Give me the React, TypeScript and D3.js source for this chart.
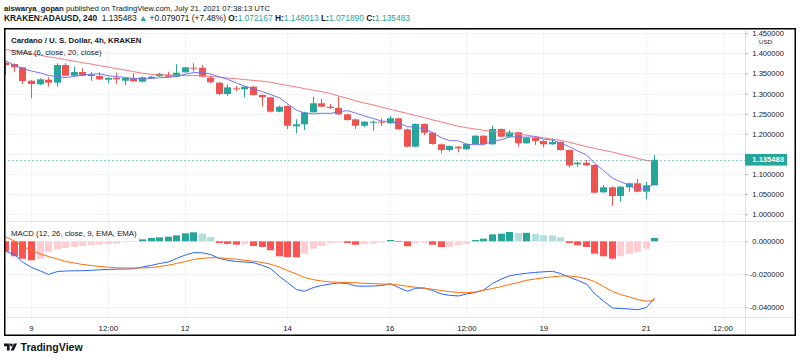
import React, { useEffect, useRef } from "react";
import * as d3 from "d3";

// KRAKEN:ADAUSD 4h bars, 8 Jul 2021 12:00 UTC .. 21 Jul 2021 04:00 UTC
const opens = [
  1.3767, 1.3734, 1.3652, 1.3319, 1.3230, 1.3344, 1.3270, 1.3709, 1.3444, 1.3535,
  1.3436, 1.3436, 1.3344, 1.3394, 1.3319, 1.3379, 1.3294, 1.3386, 1.3429, 1.3468,
  1.3419, 1.3528, 1.3642, 1.3642, 1.3394, 1.3270, 1.2989, 1.3130, 1.3106, 1.3170,
  1.2964, 1.2907, 1.2549, 1.2691, 1.2186, 1.2236, 1.2534, 1.2758, 1.2673, 1.2641,
  1.2485, 1.2360, 1.2201, 1.2286, 1.2301, 1.2261, 1.2385, 1.2112, 1.1680, 1.2243,
  1.2027, 1.1739, 1.1598, 1.1680, 1.1615, 1.1747, 1.1953, 1.1739, 1.2119, 1.1928,
  1.2037, 1.1764, 1.1903, 1.1821, 1.1739, 1.1796, 1.1598, 1.1242, 1.1282, 1.1225,
  1.0547, 1.0671, 1.0455, 1.0671, 1.0770, 1.0562, 1.072167,
];
const highs = [
  1.3790, 1.3752, 1.3660, 1.3337, 1.3379, 1.3404, 1.3752, 1.3752, 1.3667, 1.3627,
  1.3528, 1.3528, 1.3404, 1.3518, 1.3404, 1.3503, 1.3419, 1.3436, 1.3518, 1.3543,
  1.3727, 1.3667, 1.3752, 1.3709, 1.3444, 1.3290, 1.3230, 1.3188, 1.3190, 1.3190,
  1.2980, 1.2920, 1.2700, 1.2700, 1.2360, 1.2550, 1.2922, 1.2865, 1.2740, 1.2922,
  1.2500, 1.2380, 1.2320, 1.2330, 1.2385, 1.2442, 1.2400, 1.2130, 1.2260, 1.2260,
  1.2040, 1.1760, 1.1710, 1.1697, 1.1760, 1.1970, 1.1970, 1.2201, 1.2137, 1.2094,
  1.2050, 1.1920, 1.1920, 1.1840, 1.1888, 1.1810, 1.1610, 1.1300, 1.1349, 1.1240,
  1.0728, 1.0690, 1.0700, 1.0785, 1.0877, 1.0810, 1.148013,
];
const lows = [
  1.3461, 1.3543, 1.3237, 1.2882, 1.3212, 1.3170, 1.3170, 1.3429, 1.3419, 1.3436,
  1.3319, 1.3337, 1.3255, 1.3237, 1.3212, 1.3294, 1.3280, 1.3370, 1.3419, 1.3404,
  1.3404, 1.3518, 1.3543, 1.3404, 1.3260, 1.2960, 1.2939, 1.3063, 1.2907, 1.2950,
  1.2673, 1.2530, 1.2534, 1.2119, 1.2012, 1.2094, 1.2520, 1.2660, 1.2620, 1.2470,
  1.2330, 1.2119, 1.2162, 1.2077, 1.2201, 1.2250, 1.2100, 1.1665, 1.1665, 1.1970,
  1.1730, 1.1516, 1.1555, 1.1540, 1.1600, 1.1730, 1.1730, 1.1730, 1.1910, 1.1910,
  1.1680, 1.1750, 1.1722, 1.1665, 1.1725, 1.1585, 1.1168, 1.1183, 1.1200, 1.0520,
  1.0530, 1.0214, 1.0313, 1.0562, 1.0545, 1.0373, 1.071890,
];
const closes = [
  1.3709, 1.3652, 1.3312, 1.3237, 1.3354, 1.3270, 1.3709, 1.3444, 1.3535, 1.3444,
  1.3468, 1.3354, 1.3386, 1.3354, 1.3386, 1.3304, 1.3404, 1.3419, 1.3493, 1.3419,
  1.3518, 1.3652, 1.3627, 1.3419, 1.3280, 1.2989, 1.3155, 1.3106, 1.3170, 1.2964,
  1.2907, 1.2549, 1.2673, 1.2201, 1.2236, 1.2534, 1.2758, 1.2673, 1.2641, 1.2485,
  1.2343, 1.2201, 1.2301, 1.2301, 1.2276, 1.2385, 1.2112, 1.1680, 1.2243, 1.2027,
  1.1747, 1.1598, 1.1697, 1.1640, 1.1747, 1.1953, 1.1747, 1.2119, 1.1928, 1.2037,
  1.1764, 1.1903, 1.1821, 1.1739, 1.1796, 1.1598, 1.1217, 1.1282, 1.1217, 1.0537,
  1.0671, 1.0455, 1.0686, 1.0770, 1.0562, 1.0722, 1.135483,
];

// SMA 6 (blue) and SMA 20 (red), read per bar
const sma6 = [
  1.3809, 1.3709, 1.3622, 1.3560, 1.3511, 1.3448, 1.3424, 1.3399, 1.3424, 1.3461,
  1.3478, 1.3491, 1.3441, 1.3424, 1.3399, 1.3376, 1.3364, 1.3376, 1.3394, 1.3404,
  1.3426, 1.3483, 1.3520, 1.3520, 1.3486, 1.3414, 1.3354, 1.3262, 1.3188, 1.3111,
  1.3048, 1.2974, 1.2894, 1.2743, 1.2589, 1.2517, 1.2492, 1.2512, 1.2507, 1.2554,
  1.2574, 1.2517, 1.2442, 1.2378, 1.2318, 1.2301, 1.2263, 1.2176, 1.2166, 1.2119,
  1.2032, 1.1901, 1.1831, 1.1826, 1.1742, 1.1729, 1.1729, 1.1816, 1.1856, 1.1920,
  1.1925, 1.1916, 1.1928, 1.1866, 1.1843, 1.1771, 1.1679, 1.1575, 1.1476, 1.1274,
  1.1086, 1.0897, 1.0807, 1.0723, 1.0614, 1.0646, 1.0758,
];
const sma20 = [
  1.4094, 1.4057, 1.4020, 1.3988, 1.3950, 1.3913, 1.3878, 1.3841, 1.3804, 1.3766,
  1.3732, 1.3694, 1.3657, 1.3620, 1.3583, 1.3545, 1.3506, 1.3473, 1.3466, 1.3458,
  1.3451, 1.3448, 1.3448, 1.3443, 1.3426, 1.3406, 1.3386, 1.3369, 1.3347, 1.3327,
  1.3307, 1.3280, 1.3237, 1.3200, 1.3163, 1.3123, 1.3083, 1.3046, 1.3001, 1.2939,
  1.2880, 1.2820, 1.2765, 1.2716, 1.2661, 1.2609, 1.2559, 1.2507, 1.2455, 1.2402,
  1.2348, 1.2293, 1.2241, 1.2186, 1.2152, 1.2119, 1.2087, 1.2055, 1.2032, 1.2010,
  1.1988, 1.1965, 1.1933, 1.1901, 1.1866, 1.1836, 1.1789, 1.1737, 1.1682, 1.1637,
  1.1590, 1.1545, 1.1493, 1.1443, 1.1391, 1.1339, 1.1312,
];

// MACD (12, 26, close, 9)
const macdLine = [
  -0.00606, -0.00800, -0.01255, -0.01588, -0.01800, -0.02012, -0.01830, -0.01800, -0.01788, -0.01782,
  -0.01758, -0.01727, -0.01709, -0.01691, -0.01679, -0.01661, -0.01558, -0.01455, -0.01345, -0.01255,
  -0.01042, -0.00830, -0.00691, -0.00697, -0.00800, -0.01042, -0.01152, -0.01224, -0.01255, -0.01297,
  -0.01467, -0.01648, -0.02133, -0.02497, -0.02921, -0.03030, -0.02800, -0.02679, -0.02588, -0.02527,
  -0.02558, -0.02709, -0.02727, -0.02709, -0.02679, -0.02570, -0.02800, -0.03030, -0.02848, -0.02830,
  -0.02982, -0.03194, -0.03273, -0.03315, -0.03194, -0.03103, -0.02952, -0.02558, -0.02285, -0.02091,
  -0.02000, -0.01939, -0.01885, -0.01848, -0.01818, -0.01952, -0.02182, -0.02364, -0.02588, -0.03164,
  -0.03618, -0.04042, -0.04073, -0.04103, -0.04145, -0.04012, -0.03436,
];
const signalLine = [
  0.00261, 0.00018, -0.00285, -0.00558, -0.00770, -0.00921, -0.01073, -0.01224, -0.01315, -0.01406,
  -0.01467, -0.01527, -0.01570, -0.01606, -0.01618, -0.01618, -0.01618, -0.01588, -0.01527, -0.01448,
  -0.01345, -0.01224, -0.01103, -0.01030, -0.00994, -0.01000, -0.01042, -0.01085, -0.01145, -0.01206,
  -0.01285, -0.01388, -0.01558, -0.01770, -0.01982, -0.02194, -0.02327, -0.02406, -0.02467, -0.02479,
  -0.02497, -0.02515, -0.02545, -0.02564, -0.02588, -0.02606, -0.02648, -0.02727, -0.02788, -0.02848,
  -0.02909, -0.02982, -0.03055, -0.03103, -0.03115, -0.03073, -0.02970, -0.02861, -0.02739, -0.02618,
  -0.02497, -0.02364, -0.02285, -0.02212, -0.02152, -0.02103, -0.02103, -0.02152, -0.02267, -0.02436,
  -0.02739, -0.03042, -0.03224, -0.03376, -0.03527, -0.03636, -0.03576,
];
const histogram = [
  -0.00606, -0.00909, -0.01055, -0.01152, -0.01055, -0.00648, -0.00485, -0.00406, -0.00345, -0.00285,
  -0.00242, -0.00206, -0.00164, -0.00145, -0.00061, -0.00042, 0.00121, 0.00200, 0.00242, 0.00279,
  0.00364, 0.00485, 0.00545, 0.00461, 0.00261, -0.00103, -0.00164, -0.00206, -0.00164, -0.00285,
  -0.00345, -0.00545, -0.00909, -0.00952, -0.00970, -0.00752, -0.00448, -0.00285, -0.00103, -0.00085,
  -0.00103, -0.00206, -0.00182, -0.00145, -0.00061, 0.00079, -0.00042, -0.00303, -0.00103, -0.00085,
  -0.00206, -0.00345, -0.00335, -0.00242, -0.00164, 0.00079, 0.00158, 0.00424, 0.00461, 0.00564,
  0.00500, 0.00515, 0.00461, 0.00364, 0.00355, 0.00242, -0.00103, -0.00242, -0.00345, -0.00752,
  -0.00909, -0.01055, -0.00909, -0.00752, -0.00648, -0.00448, 0.00200,
];

const priceTicks = [1.0, 1.05, 1.1, 1.15, 1.2, 1.25, 1.3, 1.35, 1.4, 1.45];
const macdTicks = [0, -0.02, -0.04];
const timeTicks = [
  Date.UTC(2021, 6, 9), Date.UTC(2021, 6, 10, 12), Date.UTC(2021, 6, 12), Date.UTC(2021, 6, 14),
  Date.UTC(2021, 6, 16), Date.UTC(2021, 6, 17, 12), Date.UTC(2021, 6, 19), Date.UTC(2021, 6, 21),
  Date.UTC(2021, 6, 22, 12),
];
const timeLabels = ["9", "12:00", "12", "14", "16", "12:00", "19", "21", "12:00"];
const lastPrice = 1.135483;

const firstBar = Date.UTC(2021, 6, 8, 12);
const barMs = 4 * 3600 * 1000;

const App = () => {
  const ref = useRef<SVGSVGElement>(null);

  useEffect(() => {
    drawChart();
  }, []);

  const drawChart = () => {
    const svg = d3.select(ref.current);
    svg.selectAll("*").remove();

    const font = "'Liberation Sans', Arial, sans-serif";
    const ink = "#131722";
    const up = "#26a69a";
    const down = "#ef5350";
    const L = 4, R = 796, T = 28, B = 336; // frame
    const AX = 745; // price scale edge
    const PB = 221; // price pane bottom
    const MB = 317; // macd pane bottom

    const x = d3.scaleTime()
      .domain([new Date(Date.UTC(2021, 6, 9)), new Date(Date.UTC(2021, 6, 21))])
      .range([31, 645.7]);
    const y = d3.scaleLinear().domain([1.0, 1.45]).range([214.3, 33.2]);
    const ym = d3.scaleLinear().domain([-0.04, 0]).range([307.3, 241.3]);

    const idx = d3.range(closes.length);
    const bx = (i: number) => Math.round(x(new Date(firstBar + i * barMs)));
    const crisp = (v: number) => Math.round(v) + 0.5;

    svg.append("rect").attr("width", 800).attr("height", 362).attr("fill", "#fff");

    const defs = svg.append("defs");
    defs.append("clipPath").attr("id", "clipPrice").append("rect")
      .attr("x", L).attr("y", T).attr("width", AX - L).attr("height", PB - T);
    defs.append("clipPath").attr("id", "clipMacd").append("rect")
      .attr("x", L).attr("y", PB).attr("width", AX - L).attr("height", MB - PB);
    defs.append("clipPath").attr("id", "clipAxis").append("rect")
      .attr("x", AX).attr("y", T + 3).attr("width", R - AX).attr("height", PB - T - 3);

    // grid
    const grid = svg.append("g").attr("stroke", "#f0f3fa").attr("stroke-width", 1);
    grid.selectAll(".gv").data(timeTicks).enter().append("line").attr("class", "gv")
      .attr("x1", (d) => crisp(x(new Date(d)))).attr("x2", (d) => crisp(x(new Date(d))))
      .attr("y1", T).attr("y2", MB);
    grid.selectAll(".gp").data(priceTicks).enter().append("line").attr("class", "gp")
      .attr("x1", L).attr("x2", AX).attr("y1", (d) => crisp(y(d))).attr("y2", (d) => crisp(y(d)));
    grid.selectAll(".gm").data(macdTicks).enter().append("line").attr("class", "gm")
      .attr("x1", L).attr("x2", AX).attr("y1", (d) => crisp(ym(d))).attr("y2", (d) => crisp(ym(d)));

    // separators
    const sep = svg.append("g").attr("stroke", "#e0e3eb").attr("stroke-width", 1);
    sep.append("line").attr("x1", L).attr("x2", R).attr("y1", PB + 0.5).attr("y2", PB + 0.5);
    sep.append("line").attr("x1", L).attr("x2", R).attr("y1", MB + 0.5).attr("y2", MB + 0.5);
    sep.append("line").attr("x1", AX + 0.5).attr("x2", AX + 0.5).attr("y1", T).attr("y2", B);

    // candles
    const price = svg.append("g").attr("clip-path", "url(#clipPrice)");
    const col = (i: number) => (closes[i] >= opens[i] ? up : down);
    price.selectAll(".wick").data(idx).enter().append("line").attr("class", "wick")
      .attr("x1", (i) => bx(i) + 0.5).attr("x2", (i) => bx(i) + 0.5)
      .attr("y1", (i) => y(highs[i])).attr("y2", (i) => y(lows[i]))
      .attr("stroke", col).attr("stroke-width", 1);
    price.selectAll(".body").data(idx).enter().append("rect").attr("class", "body")
      .attr("x", (i) => bx(i) - 3).attr("width", 7)
      .attr("y", (i) => y(Math.max(opens[i], closes[i])))
      .attr("height", (i) => Math.max(1, Math.abs(y(opens[i]) - y(closes[i]))))
      .attr("fill", col);

    // SMAs
    const smaLine = (arr: number[]) => d3.line<number>().x((i) => bx(i) + 0.5).y((i) => y(arr[i]))(idx);
    price.append("path").attr("d", smaLine(sma20)).attr("fill", "none")
      .attr("stroke", "#f47a7e").attr("stroke-width", 1);
    price.append("path").attr("d", smaLine(sma6)).attr("fill", "none")
      .attr("stroke", "#7474f2").attr("stroke-width", 1);

    // last price line
    price.append("line").attr("x1", L).attr("x2", AX)
      .attr("y1", crisp(y(lastPrice))).attr("y2", crisp(y(lastPrice)))
      .attr("stroke", up).attr("stroke-opacity", 0.55).attr("stroke-dasharray", "2,2");

    svg.append("text").attr("x", 11).attr("y", 43).attr("font-family", font)
      .attr("font-size", 7.8).attr("font-weight", "bold").attr("fill", ink)
      .text("Cardano / U. S. Dollar, 4h, KRAKEN");
    svg.append("text").attr("x", 11).attr("y", 55).attr("font-family", font)
      .attr("font-size", 7.8).attr("fill", ink).text("SMAs (6, close, 20, close)");

    // MACD pane
    const macd = svg.append("g").attr("clip-path", "url(#clipMacd)");
    const histColor = (i: number) => {
      const v = histogram[i];
      const prev = i > 0 ? histogram[i - 1] : 0;
      if (v >= 0) return v >= prev ? "#26a69a" : "#b2dfdb";
      return v < prev ? "#ff5252" : "#ffcdd2";
    };
    macd.selectAll(".hist").data(idx).enter().append("rect").attr("class", "hist")
      .attr("x", (i) => bx(i) - 3).attr("width", 7)
      .attr("y", (i) => Math.min(ym(0), ym(histogram[i])))
      .attr("height", (i) => Math.abs(ym(histogram[i]) - ym(0)))
      .attr("fill", histColor);
    const mLine = (arr: number[]) => d3.line<number>().x((i) => bx(i) + 0.5).y((i) => ym(arr[i]))(idx);
    macd.append("path").attr("d", mLine(macdLine)).attr("fill", "none")
      .attr("stroke", "#2962ff").attr("stroke-width", 1);
    macd.append("path").attr("d", mLine(signalLine)).attr("fill", "none")
      .attr("stroke", "#ff6d00").attr("stroke-width", 1);
    svg.append("text").attr("x", 11).attr("y", 236).attr("font-family", font)
      .attr("font-size", 7.8).attr("fill", ink).text("MACD (12, 26, close, 9, EMA, EMA)");

    // price scale (the 1.15 label sits under the last-price tag)
    const pAxis = svg.append("g").attr("clip-path", "url(#clipAxis)")
      .append("g").attr("transform", `translate(${AX},0)`)
      .call(d3.axisRight(y).tickValues(priceTicks.filter((d) => Math.abs(y(d) - y(lastPrice)) > 8))
        .tickSize(3).tickFormat((d) => (+d).toFixed(6)));
    pAxis.select(".domain").remove();
    pAxis.selectAll("line").attr("stroke", "#b2b5be");
    pAxis.selectAll("text").attr("x", 39).attr("text-anchor", "end")
      .attr("font-family", font).attr("font-size", 7.6).attr("fill", ink);

    // last price label
    svg.append("rect").attr("x", AX).attr("y", y(lastPrice) - 5.8).attr("width", 42).attr("height", 11.6)
      .attr("fill", up);
    svg.append("text").attr("x", 784).attr("y", y(lastPrice)).attr("dy", "0.35em")
      .attr("text-anchor", "end").attr("font-family", font).attr("font-size", 7.6)
      .attr("font-weight", "bold").attr("fill", "#fff").text(lastPrice.toFixed(6));

    // currency badge
    svg.append("rect").attr("x", 758.5).attr("y", 36.5).attr("width", 14).attr("height", 9.5)
      .attr("rx", 2).attr("fill", "#fff").attr("stroke", "#e0e3eb");
    svg.append("text").attr("x", 765.5).attr("y", 43.8).attr("text-anchor", "middle")
      .attr("font-family", font).attr("font-size", 6.2).attr("fill", ink).text("USD");

    // MACD scale
    const mAxis = svg.append("g").attr("transform", `translate(${AX},0)`)
      .call(d3.axisRight(ym).tickValues(macdTicks).tickSize(3)
        .tickFormat((d) => ((+d < 0 ? "-" : "") + Math.abs(+d).toFixed(6))));
    mAxis.select(".domain").remove();
    mAxis.selectAll("line").attr("stroke", "#b2b5be");
    mAxis.selectAll("text").attr("x", 39).attr("text-anchor", "end")
      .attr("font-family", font).attr("font-size", 7.6).attr("fill", ink);

    // time scale
    const tAxis = svg.append("g").attr("transform", `translate(0,${MB})`)
      .call(d3.axisBottom(x).tickValues(timeTicks.map((d) => new Date(d))).tickSize(0).tickPadding(8)
        .tickFormat((d, i) => timeLabels[i]));
    tAxis.select(".domain").remove();
    tAxis.selectAll("text").attr("font-family", font).attr("font-size", 7.8).attr("fill", ink);

    // frame
    svg.append("rect").attr("x", L + 0.75).attr("y", T + 0.75).attr("width", R - L - 1.5).attr("height", B - T - 1.5)
      .attr("fill", "none").attr("stroke", "#000").attr("stroke-width", 1.5);

    // header
    const h1 = svg.append("text").attr("x", 4).attr("y", 11).attr("font-family", font)
      .attr("font-size", 7.7).attr("fill", ink);
    h1.append("tspan").attr("font-weight", "bold").text("aiswarya_gopan");
    h1.append("tspan").text(" published on TradingView.com, July 21, 2021 07:38:13 UTC");

    const h2 = svg.append("text").attr("x", 4).attr("y", 20.5).attr("font-family", font)
      .attr("font-size", 8.4).attr("fill", ink).attr("xml:space", "preserve");
    const parts: [string, string, boolean][] = [
      ["KRAKEN:ADAUSD, 240", ink, true],
      ["  1.135483 ", ink, false],
      ["▲", up, false],
      [" +0.079071 (+7.48%) ", ink, false],
      ["O:", ink, true], ["1.072167 ", up, false],
      ["H:", ink, true], ["1.148013 ", up, false],
      ["L:", ink, true], ["1.071890 ", up, false],
      ["C:", ink, true], ["1.135483", up, false],
    ];
    parts.forEach(([t, c, b]) => {
      h2.append("tspan").attr("fill", c).attr("font-weight", b ? "bold" : "normal").text(t);
    });

    // logo
    const logo = svg.append("g").attr("fill", ink);
    logo.append("path").attr("d", "M4,343.5 h5.6 v7 h-2.7 v-4.2 h-2.9 z");
    logo.append("circle").attr("cx", 11.3).attr("cy", 345).attr("r", 1.4);
    logo.append("path").attr("d", "M13.9,343.5 h3.2 l-3.3,7 h-3.2 z");
    svg.append("text").attr("x", 20.5).attr("y", 350.8).attr("font-family", font)
      .attr("font-size", 10.6).attr("font-weight", "bold").attr("fill", ink).text("TradingView");
  };

  return (
    <div style={{ position: "absolute", left: 0, top: 0 }}>
      <svg ref={ref} width={800} height={362} style={{ display: "block" }} />
    </div>
  );
};

export default App;
